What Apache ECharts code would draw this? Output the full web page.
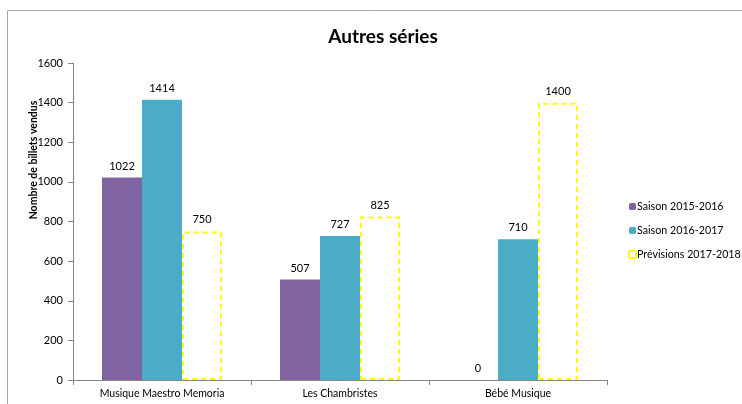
<!DOCTYPE html>
<html>
<head>
<meta charset="utf-8">
<script src="https://cdn.jsdelivr.net/npm/echarts@6/dist/echarts.min.js"></script>
<style>
  html, body { margin: 0; padding: 0; background: #fff; }
  #chart { width: 742px; height: 404px; }
</style>
</head>
<body>
<div id="chart"></div>
<script>
// données
var categories = ["Musique Maestro Memoria", "Les Chambristes", "Bébé Musique"];
var saison1516 = [1022, 507, 0];
var saison1617 = [1414, 727, 710];
var previsions1718 = [750, 825, 1400];
var seriesNames = ["Saison 2015-2016", "Saison 2016-2017", "Prévisions 2017-2018"];

var font = "Lato";
var chart = echarts.init(document.getElementById("chart"));

var label = {
  show: true,
  position: "top",
  distance: 6,
  color: "#000",
  fontFamily: font,
  fontSize: 11
};

chart.setOption({
  animation: false,
  textStyle: { fontFamily: font },
  title: {
    text: "Autres séries",
    left: 378,
    textAlign: "center",
    top: 22,
    textStyle: { fontFamily: font, fontSize: 19, fontWeight: "bold", color: "#000" }
  },
  graphic: [
    {
      type: "rect",
      shape: { x: 7.5, y: 10.5, width: 900, height: 600 },
      style: { fill: "none", stroke: "#a6a6a6", lineWidth: 1 },
      silent: true
    },
    {
      type: "text",
      x: 34,
      y: 160,
      rotation: Math.PI / 2,
      style: {
        text: "Nombre de billets vendus",
        fontFamily: font,
        fontSize: 10.5,
        fontWeight: "bold",
        fill: "#000",
        align: "center",
        verticalAlign: "middle"
      }
    }
  ],
  legend: {
    orient: "vertical",
    left: 628,
    top: 201,
    padding: 0,
    itemWidth: 7,
    itemHeight: 7,
    itemGap: 13,
    textStyle: {
      fontFamily: font, fontSize: 10.7, color: "#000",
      padding: [0, 0, 0, -4]
    },
    data: seriesNames
  },
  grid: { left: 73, right: 135, top: 63, bottom: 24 },
  xAxis: {
    type: "category",
    data: categories,
    axisLine: { lineStyle: { color: "#868686" } },
    axisTick: { show: true, length: 5, lineStyle: { color: "#868686" } },
    axisLabel: { color: "#000", fontFamily: font, fontSize: 10.5, margin: 8 }
  },
  yAxis: {
    type: "value",
    min: 0,
    max: 1600,
    interval: 200,
    axisLine: { show: true, lineStyle: { color: "#868686" } },
    axisTick: { show: true, length: 5, lineStyle: { color: "#868686" } },
    axisLabel: {
      color: "#000", fontFamily: font, fontSize: 11, margin: 10,
      formatter: function (v) { return String(v); }
    },
    splitLine: { show: false }
  },
  series: [
    {
      name: seriesNames[0],
      type: "bar",
      data: saison1516,
      barWidth: 40,
      barGap: "0%",
      itemStyle: { color: "#8064a2" },
      label: label
    },
    {
      name: seriesNames[1],
      type: "bar",
      data: saison1617,
      barWidth: 40,
      barGap: "0%",
      itemStyle: { color: "#4bacc6" },
      label: label
    },
    {
      name: seriesNames[2],
      type: "bar",
      data: previsions1718,
      barWidth: 40,
      barGap: "0%",
      itemStyle: {
        color: "rgba(255,255,255,0)",
        borderColor: "#ffff00",
        borderWidth: 2,
        borderType: [5, 4]
      },
      label: label
    }
  ]
});
</script>
</body>
</html>
